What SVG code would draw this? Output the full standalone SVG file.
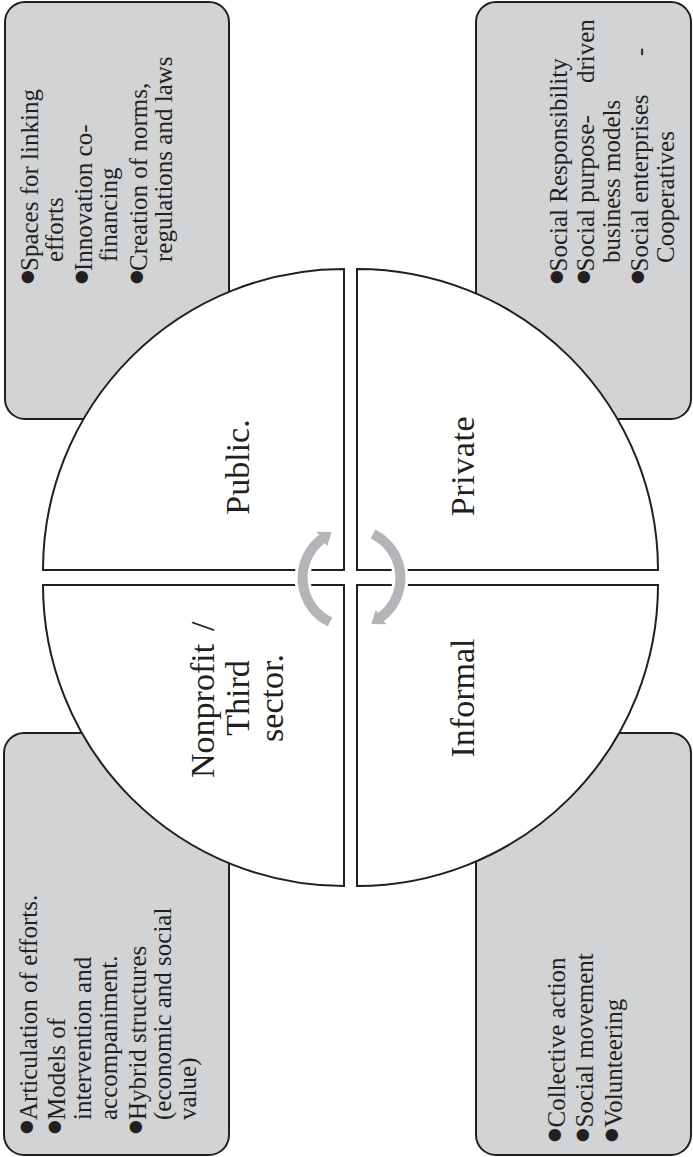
<svg xmlns="http://www.w3.org/2000/svg" width="693" height="1157" viewBox="0 0 693 1157">
<style>
.box{fill:#d1d3d4;stroke:#231f20;stroke-width:2}
.quad{fill:#ffffff;stroke:#231f20;stroke-width:2}
.t{font-family:"Liberation Serif",serif;font-size:25px;fill:#231f20}
.lbl{font-family:"Liberation Serif",serif;font-size:34px;fill:#231f20}
.bul{font-family:"DejaVu Sans",sans-serif;font-size:42px;fill:#231f20;text-anchor:middle}
.halo{fill:none;stroke:#ffffff;stroke-width:16}
.arr{fill:none;stroke:#b3b5b8;stroke-width:10}
</style>
<defs>
<marker id="ah" markerUnits="userSpaceOnUse" viewBox="0 -9 12 18" markerWidth="12" markerHeight="18" refX="1" refY="0" orient="auto">
<path d="M0,-9 L12,0 L0,9 Z" fill="#b3b5b8"/>
</marker>
</defs>
<rect width="693" height="1157" fill="#ffffff"/>

<g id="box-public">
<rect class="box" x="5" y="2" width="224" height="417" rx="20"/>
<g transform="rotate(-90)">
<text class="bul" x="-277" y="44">•</text>
<text class="bul" x="-277" y="98">•</text>
<text class="bul" x="-277" y="153">•</text>
<text class="t" x="-271" y="38">Spaces for linking</text>
<text class="t" x="-262" y="63">efforts</text>
<text class="t" x="-271" y="92">Innovation co-</text>
<text class="t" x="-262" y="117">financing</text>
<text class="t" x="-271" y="147">Creation of norms,</text>
<text class="t" x="-262" y="172">regulations and laws</text>
</g>
</g>

<g id="box-private">
<rect class="box" x="476" y="2" width="215" height="417" rx="20"/>
<g transform="rotate(-90)">
<text class="bul" x="-277" y="573">•</text>
<text class="bul" x="-277" y="600">•</text>
<text class="bul" x="-277" y="654">•</text>
<text class="t" x="-271.5" y="567">Social Responsibility</text>
<text class="t" y="594"><tspan x="-271.5">Social purpose-</tspan><tspan x="-83">driven</tspan></text>
<text class="t" x="-263" y="620">business models</text>
<text class="t" y="648"><tspan x="-271.5">Social enterprises</tspan><tspan x="-56">-</tspan></text>
<text class="t" x="-263" y="674">Cooperatives</text>
</g>
</g>

<g id="box-nonprofit">
<rect class="box" x="4" y="733" width="225" height="422" rx="20"/>
<g transform="rotate(-90)">
<text class="bul" x="-1127" y="43">•</text>
<text class="bul" x="-1127" y="71">•</text>
<text class="bul" x="-1127" y="152">•</text>
<text class="t" x="-1120" y="37">Articulation of efforts.</text>
<text class="t" x="-1120" y="65">Models of</text>
<text class="t" x="-1120" y="91">intervention and</text>
<text class="t" x="-1120" y="117">accompaniment.</text>
<text class="t" x="-1120" y="146">Hybrid structures</text>
<text class="t" x="-1120" y="171">(economic and social</text>
<text class="t" x="-1120" y="196">value)</text>
</g>
</g>

<g id="box-informal">
<rect class="box" x="476" y="733" width="215" height="422" rx="20"/>
<g transform="rotate(-90)">
<text class="bul" x="-1135" y="571">•</text>
<text class="bul" x="-1135" y="599">•</text>
<text class="bul" x="-1135" y="628">•</text>
<text class="t" x="-1127.5" y="565">Collective action</text>
<text class="t" x="-1127.5" y="593">Social movement</text>
<text class="t" x="-1127.5" y="622">Volunteering</text>
</g>
</g>

<g id="quad-public">
<path class="quad" d="M344,570 L344,269 A301,301 0 0 0 43,570 Z"/>
<text class="lbl" transform="rotate(-90)" x="-467" y="249" text-anchor="middle">Public.</text>
</g>
<g id="quad-private">
<path class="quad" d="M357,570 L357,269 A301,301 0 0 1 658,570 Z"/>
<text class="lbl" transform="rotate(-90)" x="-466" y="474" text-anchor="middle" letter-spacing="0.6">Private</text>
</g>
<g id="quad-nonprofit">
<path class="quad" d="M344,585 L43,585 A301,301 0 0 0 344,886 Z"/>
<g transform="rotate(-90)">
<text class="lbl" y="214"><tspan x="-778">Nonprofit</tspan><tspan x="-631">/</tspan></text>
<text class="lbl" x="-698" y="249" text-anchor="middle">Third</text>
<text class="lbl" x="-698" y="283" text-anchor="middle">sector.</text>
</g>
</g>
<g id="quad-informal">
<path class="quad" d="M357,585 L357,886 A301,301 0 0 0 658,585 Z"/>
<text class="lbl" transform="rotate(-90)" x="-698" y="474" text-anchor="middle">Informal</text>
</g>

<g id="connectors">
<path class="halo" d="M330.0,622.0 A49,49 0 0 1 322.7,538.4"/>
<path class="halo" d="M373.0,534.0 A49,49 0 0 1 380.3,617.6"/>
<path class="arr" d="M330.0,622.0 A49,49 0 0 1 322.7,538.4" marker-end="url(#ah)"/>
<path class="arr" d="M373.0,534.0 A49,49 0 0 1 380.3,617.6" marker-end="url(#ah)"/>
</g>
</svg>
